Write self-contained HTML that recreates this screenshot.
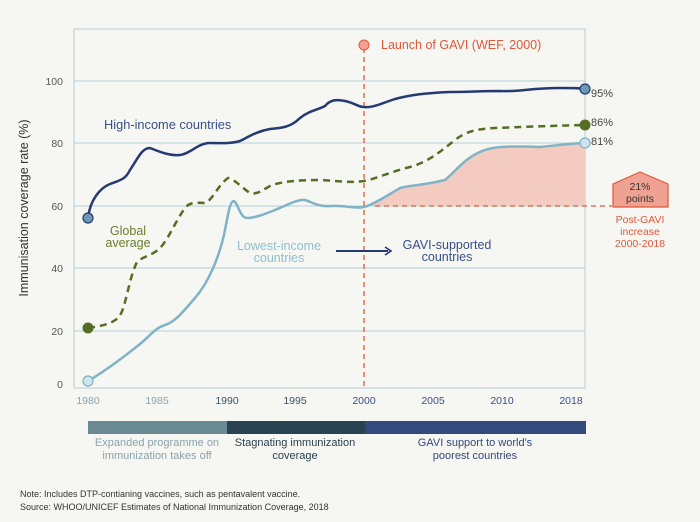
<!DOCTYPE html>
<html><head><meta charset="utf-8"><style>
html,body{margin:0;padding:0;background:#f6f6f2;}
svg{display:block;font-family:"Liberation Sans",sans-serif;}
</style></head><body>
<svg width="700" height="522" viewBox="0 0 700 522">
<rect width="700" height="522" fill="#f6f6f2"/>
<rect x="74" y="29" width="511" height="359" fill="none" stroke="#b5cdd6" stroke-width="1"/>
<g stroke="#b5cdd6" stroke-width="1">
<line x1="74" y1="81" x2="585" y2="81"/>
<line x1="74" y1="143" x2="585" y2="143"/>
<line x1="74" y1="206" x2="585" y2="206"/>
<line x1="74" y1="268" x2="585" y2="268"/>
<line x1="74" y1="331" x2="585" y2="331"/>
</g>
<g font-size="10.5" fill="#555" text-anchor="end">
<text x="63" y="85">100</text><text x="63" y="147">80</text><text x="63" y="210">60</text>
<text x="63" y="272">40</text><text x="63" y="335">20</text><text x="63" y="388">0</text>
</g>
<g font-size="10.5" text-anchor="middle">
<text x="88" y="404" fill="#8aa3b5">1980</text><text x="157" y="404" fill="#8aa3b5">1985</text>
<text x="227" y="404" fill="#3d5466">1990</text><text x="295" y="404" fill="#3d5466">1995</text>
<text x="364" y="404" fill="#3b4f86">2000</text><text x="433" y="404" fill="#3b4f86">2005</text>
<text x="502" y="404" fill="#3b4f86">2010</text><text x="571" y="404" fill="#3b4f86">2018</text>
</g>
<text transform="translate(28,208) rotate(-90)" font-size="12.5" fill="#333" text-anchor="middle">Immunisation coverage rate (%)</text>
<path d="M364,207 C372,205 385,197 400,188 C410,185 420,186 445,180 C455,172 465,158 480,152 C492,146 510,146 540,147 C560,145 575,143 585,143 L585,206 L364,206 Z" fill="#f4c6bb" opacity="0.9"/>
<line x1="375" y1="206" x2="612" y2="206" stroke="#e0583a" stroke-width="1.3" stroke-dasharray="5,4"/>
<line x1="364" y1="48" x2="364" y2="388" stroke="#e0583a" stroke-width="1.3" stroke-dasharray="5,4"/>
<circle cx="364" cy="45" r="5" fill="#f4a090" stroke="#e0583a" stroke-width="1"/>
<text x="381" y="49" font-size="12.5" fill="#e0583a">Launch of GAVI (WEF, 2000)</text>
<path d="M88,218 C90,200 100,188 110,184 C120,180 125,180 130,170 C138,158 142,148 150,148 C160,152 170,156 180,155 C190,154 198,143 210,143 C220,143 230,144 240,141 C250,136 258,131 270,129 C280,128 290,128 300,118 C310,110 318,110 325,106 C330,100 336,99 345,101 C355,103 358,107 364,107 C372,108 380,104 395,99 C410,95 425,93 450,92 C470,92 480,91 500,91 C520,92 530,88 560,88 C575,88 580,88 585,89" fill="none" stroke="#253a72" stroke-width="2.5"/>
<path d="M88,328 C100,326 110,325 118,318 C126,310 128,280 137,262 C145,255 152,256 160,248 C168,240 175,222 185,208 C190,201 200,203 205,203 C212,201 218,185 228,178 C236,180 242,188 250,193 C258,195 262,190 272,185 C285,181 300,180 320,180 C340,181 350,183 364,181 C375,179 390,172 410,167 C428,162 440,152 455,140 C465,132 475,129 495,128 C520,127 545,126 585,125" fill="none" stroke="#566e23" stroke-width="2.5" stroke-dasharray="7,5"/>
<path d="M88,381 C100,374 120,360 140,344 C150,336 155,328 165,325 C175,322 182,313 195,298 C208,283 218,260 224,235 C228,215 230,200 234,201 C238,203 240,218 247,218 C255,218 265,214 275,210 C285,206 298,199 305,200 C312,202 318,207 330,206 C345,205 356,209 364,207 C372,205 385,197 400,188 C410,185 420,186 445,180 C455,172 465,158 480,152 C492,146 510,146 540,147 C560,145 575,143 585,143" fill="none" stroke="#7fb3c6" stroke-width="2.5"/>
<circle cx="88" cy="218" r="5" fill="#6e99b3" stroke="#253a72" stroke-width="1.2"/>
<circle cx="88" cy="328" r="5.5" fill="#566e23"/>
<circle cx="88" cy="381" r="5" fill="#cfe5ee" stroke="#7fb3c6" stroke-width="1.2"/>
<circle cx="585" cy="89" r="5" fill="#6e99b3" stroke="#253a72" stroke-width="1.2"/>
<circle cx="585" cy="125" r="5.5" fill="#566e23"/>
<circle cx="585" cy="143" r="5" fill="#cfe5ee" stroke="#7fb3c6" stroke-width="1.2"/>
<g font-size="11" fill="#444">
<text x="591" y="97">95%</text><text x="591" y="126">86%</text><text x="591" y="145">81%</text>
</g>
<text x="104" y="129" font-size="12.8" fill="#3b4f86">High-income countries</text>
<text x="128" y="235" font-size="12.5" fill="#6b7e2b" text-anchor="middle">Global</text>
<text x="128" y="247" font-size="12.5" fill="#6b7e2b" text-anchor="middle">average</text>
<text x="279" y="250" font-size="12.5" fill="#8cc0d0" text-anchor="middle">Lowest-income</text>
<text x="279" y="262" font-size="12.5" fill="#8cc0d0" text-anchor="middle">countries</text>
<line x1="336" y1="251" x2="388" y2="251" stroke="#253a72" stroke-width="2"/>
<path d="M385,247 L391,251 L385,255" fill="none" stroke="#253a72" stroke-width="1.6"/>
<text x="447" y="249" font-size="12.5" fill="#3b4f86" text-anchor="middle">GAVI-supported</text>
<text x="447" y="261" font-size="12.5" fill="#3b4f86" text-anchor="middle">countries</text>
<path d="M613,207 L613,184 L640,172 L668,184 L668,207 Z" fill="#f0a292" stroke="#e0583a" stroke-width="1.2"/>
<text x="640" y="190" font-size="10.5" fill="#333" text-anchor="middle">21%</text>
<text x="640" y="202" font-size="10.5" fill="#333" text-anchor="middle">points</text>
<g font-size="10.5" fill="#e0583a" text-anchor="middle">
<text x="640" y="223">Post-GAVI</text><text x="640" y="235">increase</text><text x="640" y="247">2000-2018</text>
</g>
<rect x="88" y="421" width="139" height="13" fill="#6a8a92"/>
<rect x="227" y="421" width="138" height="13" fill="#29424f"/>
<rect x="365" y="421" width="221" height="13" fill="#344a7c"/>
<g font-size="11" text-anchor="middle">
<text x="157" y="446" fill="#8aa3ab">Expanded programme on</text>
<text x="157" y="459" fill="#8aa3ab">immunization takes off</text>
<text x="295" y="446" fill="#29424f">Stagnating immunization</text>
<text x="295" y="459" fill="#29424f">coverage</text>
<text x="475" y="446" fill="#344a7c">GAVI support to world's</text>
<text x="475" y="459" fill="#344a7c">poorest countries</text>
</g>
<text x="20" y="497" font-size="9" fill="#333">Note: Includes DTP-contianing vaccines, such as pentavalent vaccine.</text>
<text x="20" y="510" font-size="9" fill="#333">Source: WHOO/UNICEF Estimates of National Immunization Coverage, 2018</text>
</svg>
</body></html>
